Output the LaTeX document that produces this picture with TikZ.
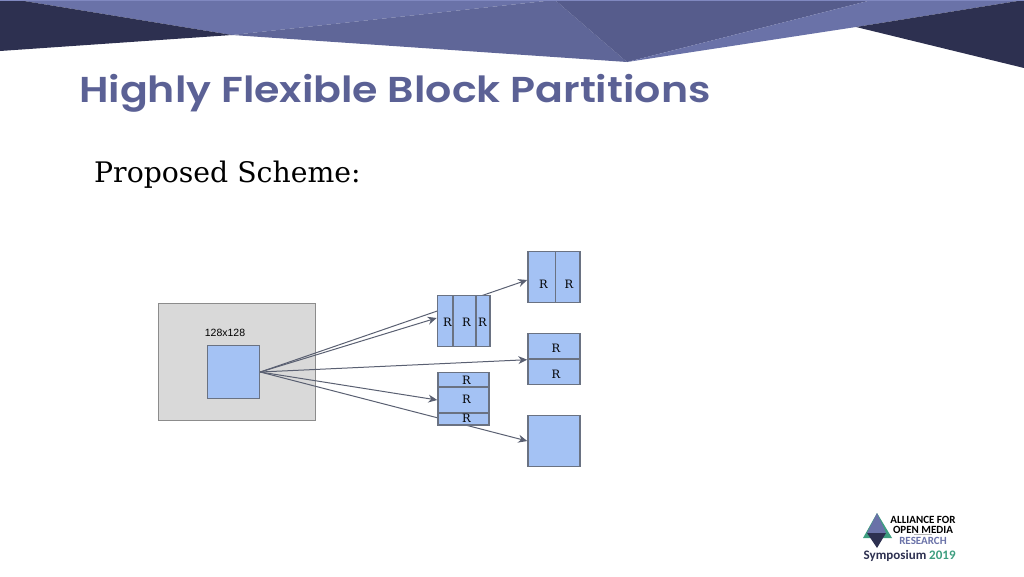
\documentclass[tikz,border=0pt]{standalone}
\usepackage{fontspec}
\setmainfont{DejaVu Serif}
\newfontfamily\titlefont[FakeStretch=1.142]{Poppins SemiBold}
\newfontfamily\helv{Liberation Sans}
\newfontfamily\logofont{Carlito}
\usetikzlibrary{arrows.meta,positioning}
\definecolor{slidelight}{HTML}{6A72A8}
\definecolor{slidemid}{HTML}{5F6698}
\definecolor{slidedeep}{HTML}{565C8C}
\definecolor{slidenavy}{HTML}{2D3050}
\definecolor{slidetop}{HTML}{8088C0}
\definecolor{titleblue}{HTML}{5B6195}
\definecolor{blockblue}{HTML}{A4C2F4}
\definecolor{blockedge}{HTML}{6A7282}
\definecolor{lanegrey}{HTML}{D9D9D9}
\definecolor{arrowgrey}{HTML}{5A6072}
\definecolor{logogreen}{HTML}{3E9E80}
\tikzset{
    block/.style={
    rectangle,draw=blockedge,fill=blockblue,line width=1.5pt,inner sep=0pt
    },
    cellmark/.style={
    inner sep=0pt,font=\fontsize{11.5}{13}\selectfont
    },
    superblock/.style={
    rectangle,draw=gray!90,fill=lanegrey,line width=0.8pt,inner sep=0pt
    },
    split/.style={
    ->,draw=arrowgrey,line width=1pt,>={Stealth[length=9pt,width=8pt]}
    },
    logoline/.style={
    inner sep=0pt,font=\logofont\bfseries\fontsize{11}{12}\selectfont
    },
}
\begin{document}
\begin{tikzpicture}[x=1pt, y=-1pt]
   \useasboundingbox (0,0) rectangle (1024,576);
   % banner
   \fill[slidelight] (18,0) -- (232,35) -- (555,0) -- cycle;
   \fill[slidemid] (232,35) -- (555,0) -- (627,62) -- cycle;
   \fill[slidedeep] (555,0) -- (627,62) -- (872,0) -- cycle;
   \fill[slidelight] (627,62) -- (872,0) -- (1024,0) -- (856,27) -- cycle;
   \fill[slidenavy] (0,0) -- (18,0) -- (232,35) -- (0,51) -- cycle;
   \fill[slidenavy] (856,27) -- (1024,0) -- (1024,68) -- cycle;
   \fill[slidetop] (0,0) rectangle (1024,1);

   \node[anchor=base west, inner sep=0pt, text=titleblue, font=\titlefont\fontsize{36}{40}\selectfont] (title) at (79,102) {Highly Flexible Block Partitions};
   \node[anchor=base west, inner sep=0pt, font=\fontsize{28.3}{32}\selectfont] (scheme) at (94,182) {Proposed Scheme:};

   \node[superblock, minimum width=157pt, minimum height=117pt] (sb) at (237,361.5) {};
   \node[inner sep=0pt, font=\helv\fontsize{10.5}{12}\selectfont] (size) at (225,332.5) {128x128};
   \node[block, minimum width=52pt, minimum height=53pt] (src) at (233.5,372) {};

   \node[block, minimum width=27.5pt, minimum height=51pt] (vba) at (541.7,277) {};
   \node[block, minimum width=24.5pt, minimum height=51pt] (vbb) at (567.8,277) {};
   \node[block, minimum width=52pt, minimum height=51pt] (none) at (554,441) {};

   \path
    (src.east) edge[split] ([yshift=-3pt]vba.west)
               edge[split] (none.west);

   \node[block, minimum width=15.5pt, minimum height=51pt] (vta) at (445.2,321) {};
   \node[block, minimum width=23pt, minimum height=51pt] (vtb) at (464.5,321) {};
   \node[block, minimum width=14pt, minimum height=51pt] (vtc) at (483,321) {};

   \node[block, minimum width=52pt, minimum height=25.5pt] (hba) at (554,346.2) {};
   \node[block, minimum width=52pt, minimum height=25.5pt] (hbb) at (554,371.7) {};

   \node[block, minimum width=51pt, minimum height=14.5pt] (hta) at (463.5,379.7) {};
   \node[block, minimum width=51pt, minimum height=26pt] (htb) at (463.5,400) {};
   \node[block, minimum width=51pt, minimum height=12pt] (htc) at (463.5,419) {};

   \path
    (src.east) edge[split] ([yshift=3pt]vta.west)
               edge[split] (hba.south west)
               edge[split] (htb.west);

   \node[cellmark] (vbar) at (543.5,284) {R};
   \node[cellmark] (vbbr) at (569,284) {R};
   \node[cellmark] (vtar) at (447.5,322) {R};
   \node[cellmark] (vtbr) at (466.5,322) {R};
   \node[cellmark] (vtcr) at (482.5,322) {R};
   \node[cellmark] (hbar) at (556,348) {R};
   \node[cellmark] (hbbr) at (556,374) {R};
   \node[cellmark] (htar) at (466.5,380) {R};
   \node[cellmark] (htbr) at (466.5,399) {R};
   \node[cellmark] (htcr) at (466.5,418.5) {R};

   % logo
   \fill[logogreen] (863,538) -- (877,513) -- (892,538) -- cycle;
   \fill[slidelight] (867,533) -- (877,513) -- (886,533) -- cycle;
   \fill[slidenavy] (867,533) -- (886,533) -- (877,548) -- cycle;
   \node[logoline] (aom1) at (923,519.5) {ALLIANCE FOR};
   \node[logoline] (aom2) at (923,529.5) {OPEN MEDIA};
   \fill[gray!60] (914,534) rectangle (932,534.6);
   \node[logoline, text=slidelight] (aom3) at (923,541) {RESEARCH};
   \node[logoline, anchor=west, text=slidenavy, font=\logofont\bfseries\fontsize{13}{15}\selectfont] (sym) at (863.5,556) {Symposium \textcolor{logogreen}{2019}};
\end{tikzpicture}
\end{document}
